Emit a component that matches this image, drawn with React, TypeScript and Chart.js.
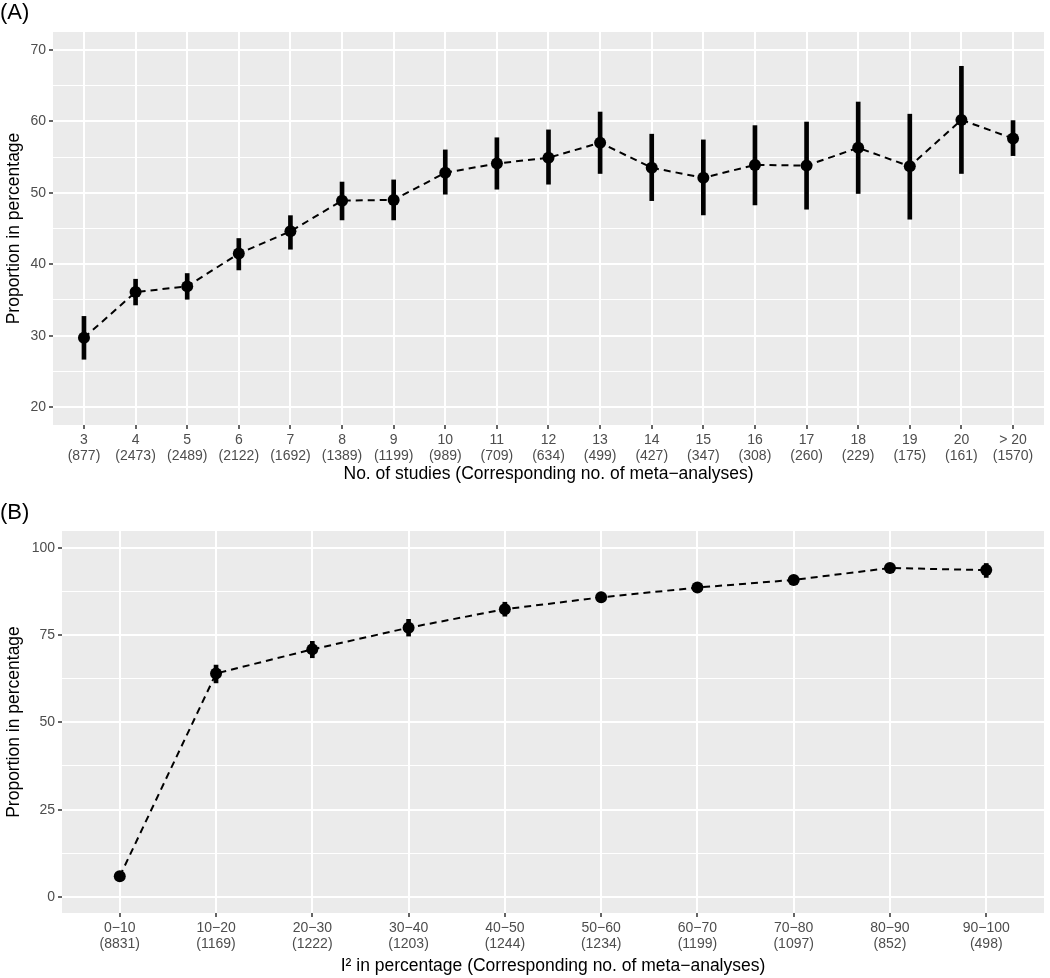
import React, { useEffect, useRef } from 'react';
import { Chart, registerables } from 'chart.js';

Chart.register(...registerables);

const FONT = "'Liberation Sans', Arial, Helvetica, sans-serif";

// ---- Panel A data ----
const studiesCats = ['3', '4', '5', '6', '7', '8', '9', '10', '11', '12', '13', '14', '15', '16', '17', '18', '19', '20', '> 20'];
const studiesCounts = [877, 2473, 2489, 2122, 1692, 1389, 1199, 989, 709, 634, 499, 427, 347, 308, 260, 229, 175, 161, 1570];
const studiesProp = [29.7, 36.1, 36.9, 41.5, 44.6, 48.9, 49.0, 52.8, 54.1, 54.9, 57.0, 53.5, 52.1, 53.9, 53.8, 56.3, 53.7, 60.2, 57.6];
const studiesLow = [26.7, 34.3, 35.1, 39.2, 42.1, 46.2, 46.2, 49.8, 50.5, 51.2, 52.7, 48.9, 46.9, 48.3, 47.7, 49.9, 46.3, 52.7, 55.2];
const studiesHigh = [32.7, 37.9, 38.7, 43.6, 46.8, 51.5, 51.8, 56.0, 57.7, 58.8, 61.3, 58.2, 57.4, 59.4, 59.9, 62.7, 61.0, 67.7, 60.1];
const studiesMajorTicks = [20, 30, 40, 50, 60, 70];
const studiesMinorTicks = [25, 35, 45, 55, 65];

// ---- Panel B data ----
const i2Cats = ['0\u221210', '10\u221220', '20\u221230', '30\u221240', '40\u221250', '50\u221260', '60\u221270', '70\u221280', '80\u221290', '90\u2212100'];
const i2Counts = [8831, 1169, 1222, 1203, 1244, 1234, 1199, 1097, 852, 498];
const i2Prop = [5.9, 64.0, 70.9, 77.1, 82.4, 85.8, 88.6, 90.8, 94.2, 93.6];
const i2Low = [5.2, 61.3, 68.5, 74.7, 80.4, 84.5, 87.7, 89.7, 93.0, 91.5];
const i2High = [6.6, 66.4, 73.2, 79.5, 84.4, 86.8, 89.4, 91.7, 95.3, 95.5];
const i2MajorTicks = [0, 25, 50, 75, 100];
const i2MinorTicks = [12.5, 37.5, 62.5, 87.5];

const TITLE_SIZE = 17.5;

const bgPlugin = {
  id: 'panelBg',
  beforeDraw(chart: any) {
    const { ctx, chartArea: a } = chart;
    ctx.save();
    ctx.fillStyle = '#EBEBEB';
    ctx.fillRect(a.left, a.top, a.right - a.left, a.bottom - a.top);
    ctx.restore();
  },
};

type PanelProps = {
  tag: string;
  tagY: number;
  cats: string[];
  counts: number[];
  prop: number[];
  low: number[];
  high: number[];
  major: number[];
  minor: number[];
  yMin: number;
  yMax: number;
  xTitle: string;
  yWidth: number;
  topPad: number;
  xTitleBottomPad: number;
  yTitlePad: number;
  width: number;
  height: number;
  top: number;
};

function Panel(p: PanelProps) {
  const ref = useRef<HTMLCanvasElement>(null);
  useEffect(() => {
    const canvas = ref.current;
    if (!canvas) return;
    const n = p.cats.length;
    const allTicks = [...p.major, ...p.minor].sort((a, b) => a - b);
    const isMajor = (v: number) => p.major.some((m) => Math.abs(m - v) < 1e-9);
    const tagPlugin = {
      id: 'tag',
      afterDraw(chart: any) {
        const ctx = chart.ctx;
        ctx.save();
        ctx.fillStyle = '#000';
        ctx.font = `22px ${FONT}`;
        ctx.textBaseline = 'middle';
        ctx.textAlign = 'left';
        ctx.fillText(p.tag, 0, p.tagY);
        ctx.restore();
      },
    };
    const chart = new Chart(canvas, {
      type: 'line',
      data: {
        datasets: [
          {
            type: 'line',
            data: p.prop.map((v, i) => ({ x: i, y: v })),
            borderColor: '#000',
            borderWidth: 2,
            borderDash: [7, 5],
            pointRadius: 6,
            pointBackgroundColor: '#000',
            pointBorderWidth: 0,
            pointHoverRadius: 6,
            tension: 0,
            order: 1,
          } as any,
          {
            type: 'bar',
            data: p.low.map((v, i) => ({ x: i, y: [v, p.high[i]] })),
            backgroundColor: '#000',
            borderWidth: 0,
            barThickness: 4,
            order: 2,
          } as any,
        ],
      },
      options: {
        responsive: false,
        animation: false,
        events: [],
        layout: { padding: { top: p.topPad, right: 6, left: 0, bottom: 0 } },
        plugins: { legend: { display: false }, tooltip: { enabled: false } },
        scales: {
          x: {
            type: 'linear',
            min: -0.6,
            max: n - 0.4,
            offset: false,
            afterBuildTicks: (s: any) => {
              s.ticks = p.cats.map((_, i) => ({ value: i }));
            },
            afterFit: (s: any) => {
              s.height = 65;
            },
            ticks: {
              autoSkip: false,
              maxRotation: 0,
              minRotation: 0,
              padding: 3,
              color: '#4D4D4D',
              font: { family: FONT, size: 14, lineHeight: 1.15 },
              callback: (v: any) => [p.cats[v], `(${p.counts[v]})`],
            },
            grid: {
              offset: false,
              color: '#FFFFFF',
              lineWidth: 2,
              tickLength: 4,
              tickColor: '#333333',
              tickWidth: 1.5,
            },
            border: { display: false },
            title: {
              display: true,
              text: p.xTitle,
              color: '#000',
              font: { family: FONT, size: TITLE_SIZE, lineHeight: 1.2 },
              padding: { top: 0, bottom: p.xTitleBottomPad },
            },
          } as any,
          y: {
            type: 'linear',
            min: p.yMin,
            max: p.yMax,
            beginAtZero: false,
            afterBuildTicks: (s: any) => {
              s.ticks = allTicks.map((v) => ({ value: v }));
            },
            afterFit: (s: any) => {
              s.width = p.yWidth;
            },
            ticks: {
              autoSkip: false,
              padding: 3,
              color: '#4D4D4D',
              font: { family: FONT, size: 14 },
              callback: (v: any) => (isMajor(v) ? String(v) : ''),
            },
            grid: {
              color: '#FFFFFF',
              lineWidth: (c: any) => (c.tick && isMajor(c.tick.value) ? 2 : 1),
              tickLength: 4,
              tickColor: (c: any) => (c.tick && isMajor(c.tick.value) ? '#333333' : 'rgba(0,0,0,0)'),
              tickWidth: 1.5,
            },
            border: { display: false },
            title: {
              display: true,
              text: 'Proportion in percentage',
              color: '#000',
              font: { family: FONT, size: TITLE_SIZE, lineHeight: 1.2 },
              padding: { top: p.yTitlePad, bottom: 0 },
            },
          } as any,
        },
      },
      plugins: [bgPlugin, tagPlugin],
    });
    return () => chart.destroy();
  }, []);
  return (
    <canvas
      ref={ref}
      width={p.width}
      height={p.height}
      style={{ position: 'absolute', left: 0, top: p.top, width: p.width, height: p.height }}
    />
  );
}

export default function App() {
  return (
    <div style={{ position: 'absolute', left: 0, top: 0, width: 1050, height: 978, background: '#fff', overflow: 'hidden' }}>
      <Panel
        tag="(A)"
        tagY={13}
        cats={studiesCats}
        counts={studiesCounts}
        prop={studiesProp}
        low={studiesLow}
        high={studiesHigh}
        major={studiesMajorTicks}
        minor={studiesMinorTicks}
        yMin={17.5}
        yMax={72.5}
        xTitle={'No. of studies (Corresponding no. of meta\u2212analyses)'}
        yWidth={53}
        topPad={32}
        xTitleBottomPad={5}
        yTitlePad={4}
        width={1050}
        height={490}
        top={0}
      />
      <Panel
        tag="(B)"
        tagY={23}
        cats={i2Cats}
        counts={i2Counts}
        prop={i2Prop}
        low={i2Low}
        high={i2High}
        major={i2MajorTicks}
        minor={i2MinorTicks}
        yMin={-4.6}
        yMax={104.8}
        xTitle={'I\u00B2 in percentage (Corresponding no. of meta\u2212analyses)'}
        yWidth={62}
        topPad={41}
        xTitleBottomPad={1.5}
        yTitlePad={4}
        width={1050}
        height={488}
        top={490}
      />
    </div>
  );
}
